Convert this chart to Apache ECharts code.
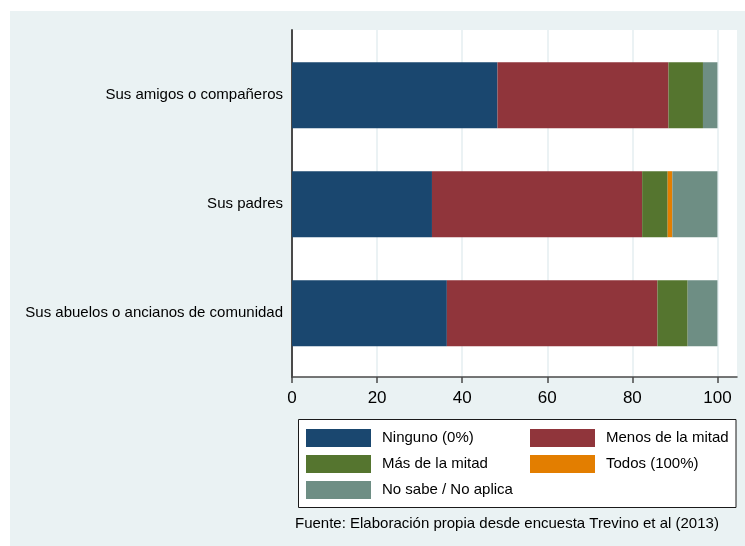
<!DOCTYPE html>
<html>
<head>
<meta charset="utf-8">
<script src="https://cdn.jsdelivr.net/npm/echarts@6/dist/echarts.min.js"></script>
<style>
  html, body { margin: 0; padding: 0; background: #ffffff; }
  #chart { width: 745px; height: 546px; }
</style>
</head>
<body>
<div id="chart"></div>
<script>
// Respondent groups (one horizontal bar each, top to bottom)
const categories = [
  'Sus amigos o compañeros',
  'Sus padres',
  'Sus abuelos o ancianos de comunidad'
];

// Share of answers (%) per group, stacked to 100
const ninguno = [48.3, 32.9, 36.4];
const menosMitad = [40.2, 49.4, 49.5];
const masMitad = [8.1, 6.0, 7.1];
const todos = [0, 1.1, 0];
const noSabe = [3.4, 10.6, 7.0];

const seriesNames = ['Ninguno (0%)', 'Menos de la mitad', 'Más de la mitad', 'Todos (100%)', 'No sabe / No aplica'];
const seriesValues = [ninguno, menosMitad, masMitad, todos, noSabe];
const seriesColors = ['#1a476f', '#90353b', '#55752f', '#e37e00', '#6e8e84'];

const xTicks = [0, 20, 40, 60, 80, 100];
const footnote = 'Fuente: Elaboración propia desde encuesta Trevino et al (2013)';

const FONT = '"Liberation Sans", Arial, Helvetica, sans-serif';
const X_MAX = 104.6;

const chart = echarts.init(document.getElementById('chart'), null, { renderer: 'canvas' });

// legend placement: two columns, three rows
const legendSlots = [
  { left: 306, top: 429 },
  { left: 530, top: 429 },
  { left: 306, top: 455 },
  { left: 530, top: 455 },
  { left: 306, top: 481 }
];

const legends = seriesNames.map((name, i) => ({
  data: [name],
  left: legendSlots[i].left,
  top: legendSlots[i].top,
  padding: 0,
  itemWidth: 65,
  itemHeight: 18,
  icon: 'rect',
  selectedMode: false,
  textStyle: {
    fontFamily: FONT,
    fontSize: 15,
    color: '#000',
    padding: [2, 0, 0, 6]
  }
}));

const option = {
  backgroundColor: '#ffffff',
  animation: false,
  graphic: [
    // outer light panel
    {
      type: 'rect', z: -10, silent: true,
      shape: { x: 10, y: 11, width: 740, height: 540 },
      style: { fill: '#eaf2f3' }
    },
    // legend frame
    {
      type: 'rect', z: 1, silent: true,
      shape: { x: 298.5, y: 419.5, width: 437.5, height: 88 },
      style: { fill: '#ffffff', stroke: '#1a1a1a', lineWidth: 1 }
    },
    {
      type: 'text', left: 295, top: 516, z: 5, silent: true,
      style: { text: footnote, font: '15px ' + FONT, fill: '#000' }
    }
  ],
  legend: legends,
  grid: [
    // frame: white plot region with axes and gridlines
    { left: 292, top: 30, width: 445, height: 347, show: true, backgroundColor: '#ffffff', borderWidth: 0 },
    // bars
    { left: 292, top: 40.7, width: 445, height: 327, show: false }
  ],
  xAxis: [
    {
      gridIndex: 0, type: 'value', min: 0, max: X_MAX, interval: 20,
      axisLine: { show: true, lineStyle: { color: '#4a4a4a', width: 1.5 } },
      axisTick: { show: true, length: 6, customValues: xTicks, lineStyle: { color: '#4a4a4a', width: 1.5 } },
      axisLabel: {
        customValues: xTicks, margin: 13,
        fontFamily: FONT, fontSize: 17, color: '#000'
      },
      splitLine: { show: true, lineStyle: { color: '#e4eef0', width: 1.5 } }
    },
    {
      gridIndex: 1, type: 'value', min: 0, max: X_MAX,
      show: false
    }
  ],
  yAxis: [
    {
      gridIndex: 0, type: 'value', min: 0, max: 1,
      axisLine: { show: true, lineStyle: { color: '#4a4a4a', width: 2 } },
      axisTick: { show: false }, axisLabel: { show: false }, splitLine: { show: false }
    },
    {
      gridIndex: 1, type: 'category', data: categories, inverse: true,
      axisLine: { show: false }, axisTick: { show: false }, splitLine: { show: false },
      axisLabel: { margin: 9, fontFamily: FONT, fontSize: 15, color: '#000', padding: [5, 0, 0, 0] }
    }
  ],
  series: seriesNames.map((name, i) => ({
    name: name,
    type: 'bar',
    stack: 'total',
    xAxisIndex: 1,
    yAxisIndex: 1,
    barWidth: 66,
    itemStyle: { color: seriesColors[i] },
    data: seriesValues[i]
  }))
};

chart.setOption(option);
</script>
</body>
</html>
